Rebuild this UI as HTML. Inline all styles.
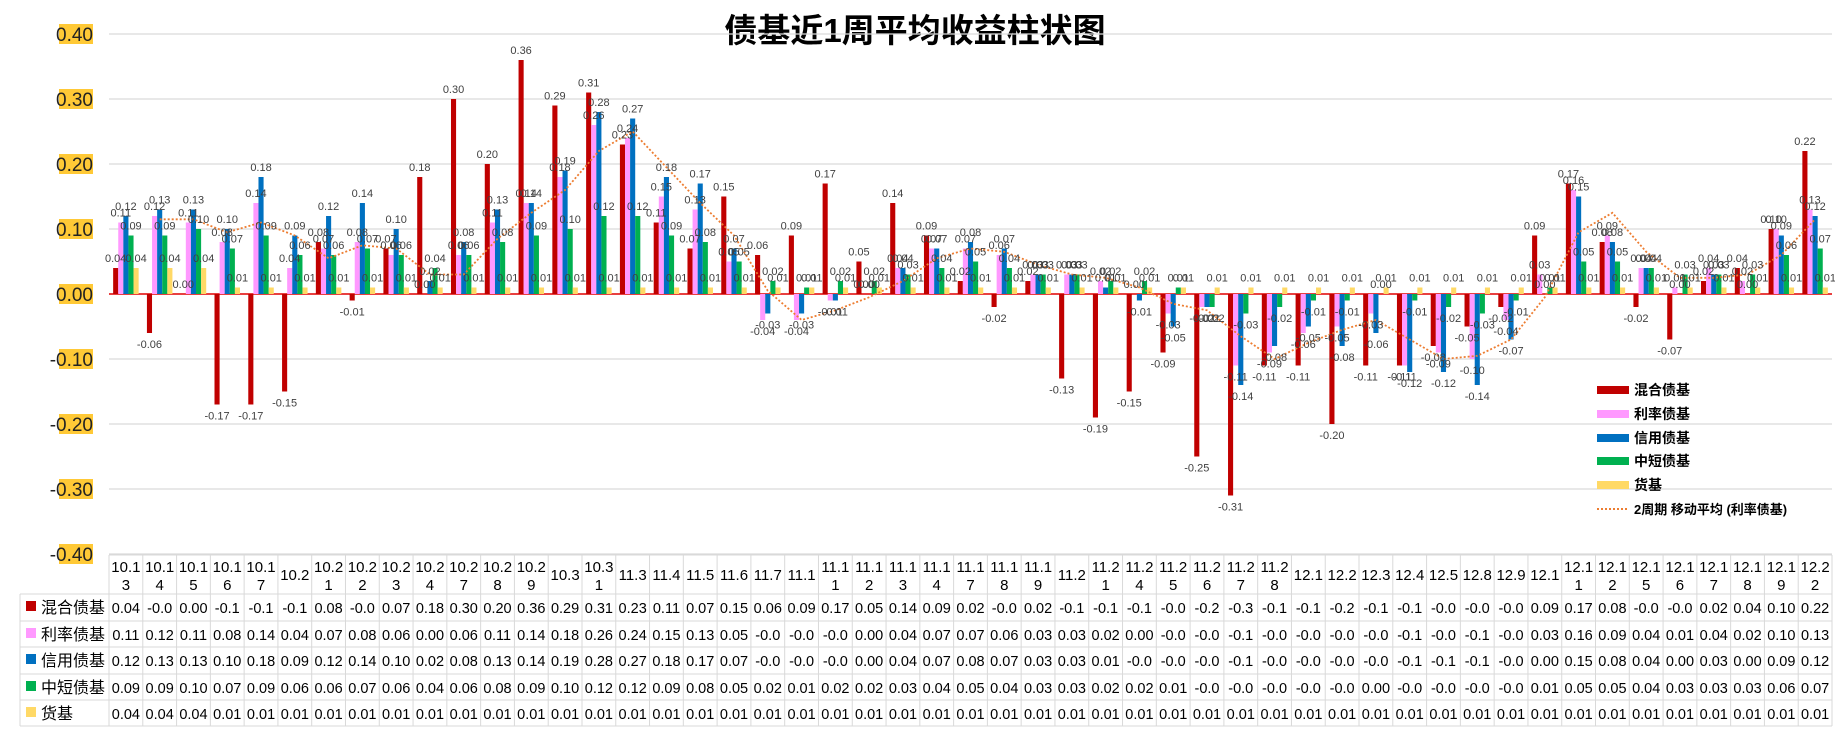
<!DOCTYPE html>
<html><head><meta charset="utf-8">
<style>
html,body{margin:0;padding:0;background:#fff;}
svg{display:block;font-family:"Liberation Sans","Noto Sans CJK SC",sans-serif;}
</style></head>
<body>
<svg id="chart" width="1835" height="733" viewBox="0 0 1835 733" xmlns="http://www.w3.org/2000/svg">
<rect width="1835" height="733" fill="#fff"/>
<text x="915" y="42" text-anchor="middle" font-size="33" font-weight="bold" fill="#000" font-family="'Liberation Sans','Noto Sans CJK SC',sans-serif">债基近1周平均收益柱状图</text>
<g id="grid"></g><g id="bars"></g><g id="line"></g><g id="labels"></g><g id="yaxis"></g><g id="table"></g><g id="legend"></g>
</svg>
<script>
const categories=["10.13","10.14","10.15","10.16","10.17","10.2","10.21","10.22","10.23","10.24","10.27","10.28","10.29","10.3","10.31","11.3","11.4","11.5","11.6","11.7","11.1","11.11","11.12","11.13","11.14","11.17","11.18","11.19","11.2","11.21","11.24","11.25","11.26","11.27","11.28","12.1","12.2","12.3","12.4","12.5","12.8","12.9","12.1","12.11","12.12","12.15","12.16","12.17","12.18","12.19","12.22"];
const mixed=[0.04,-0.06,0.00,-0.17,-0.17,-0.15,0.08,-0.01,0.07,0.18,0.30,0.20,0.36,0.29,0.31,0.23,0.11,0.07,0.15,0.06,0.09,0.17,0.05,0.14,0.09,0.02,-0.02,0.02,-0.13,-0.19,-0.15,-0.09,-0.25,-0.31,-0.11,-0.11,-0.20,-0.11,-0.11,-0.08,-0.05,-0.02,0.09,0.17,0.08,-0.02,-0.07,0.02,0.04,0.10,0.22];
const rateVals=[0.11,0.12,0.11,0.08,0.14,0.04,0.07,0.08,0.06,0.00,0.06,0.11,0.14,0.18,0.26,0.24,0.15,0.13,0.05,-0.04,-0.04,-0.01,0.00,0.04,0.07,0.07,0.06,0.03,0.03,0.02,0.00,-0.03,-0.02,-0.11,-0.09,-0.06,-0.05,-0.03,-0.11,-0.09,-0.10,-0.04,0.03,0.16,0.09,0.04,0.01,0.04,0.02,0.10,0.13];
const credit=[0.12,0.13,0.13,0.10,0.18,0.09,0.12,0.14,0.10,0.02,0.08,0.13,0.14,0.19,0.28,0.27,0.18,0.17,0.07,-0.03,-0.03,-0.01,0.00,0.04,0.07,0.08,0.07,0.03,0.03,0.01,-0.01,-0.05,-0.02,-0.14,-0.08,-0.05,-0.08,-0.06,-0.12,-0.12,-0.14,-0.07,0.00,0.15,0.08,0.04,0.00,0.03,0.00,0.09,0.12];
const shortTerm=[0.09,0.09,0.10,0.07,0.09,0.06,0.06,0.07,0.06,0.04,0.06,0.08,0.09,0.10,0.12,0.12,0.09,0.08,0.05,0.02,0.01,0.02,0.02,0.03,0.04,0.05,0.04,0.03,0.03,0.02,0.02,0.01,-0.02,-0.03,-0.02,-0.01,-0.01,0.00,-0.01,-0.02,-0.03,-0.01,0.01,0.05,0.05,0.04,0.03,0.03,0.03,0.06,0.07];
const money=[0.04,0.04,0.04,0.01,0.01,0.01,0.01,0.01,0.01,0.01,0.01,0.01,0.01,0.01,0.01,0.01,0.01,0.01,0.01,0.01,0.01,0.01,0.01,0.01,0.01,0.01,0.01,0.01,0.01,0.01,0.01,0.01,0.01,0.01,0.01,0.01,0.01,0.01,0.01,0.01,0.01,0.01,0.01,0.01,0.01,0.01,0.01,0.01,0.01,0.01,0.01];
const yTicks=[0.40,0.30,0.20,0.10,0.00,-0.10,-0.20,-0.30,-0.40];
const seriesNames=["混合债基","利率债基","信用债基","中短债基","货基"];
const seriesColors=["#C00000","#FF99FF","#0070C0","#00B050","#FFD966"];
const seriesData=[mixed,rateVals,credit,shortTerm,money];

const NS="http://www.w3.org/2000/svg";
const X0=109,X1=1832,Y0=294,PX=650;
const n=categories.length,gw=(X1-X0)/n,bw=5.1;
const y=v=>Y0-v*PX;
const gx=i=>X0+i*gw;
function mk(tag,attrs,parent,text){const e=document.createElementNS(NS,tag);for(const k in attrs)e.setAttribute(k,attrs[k]);if(text!==undefined)e.textContent=text;parent.appendChild(e);return e;}
const G=id=>document.getElementById(id);

yTicks.forEach(t=>{
  if(t!==0){const l=mk('line',{x1:X0,x2:X1,y1:y(t),y2:y(t),stroke:'#D9D9D9','stroke-width':1.3},G('grid'));
  
  }
  const r=mk('rect',{x:59,y:y(t)-10,width:34,height:20,fill:'#FFC936'},G('yaxis'));
  
  
  const tx=mk('text',{x:93,y:y(t)+7,'text-anchor':'end','font-size':19,fill:'#222'},G('yaxis'),t.toFixed(2));
  
  
});
const off=(gw-5*bw)/2;
seriesData.forEach((arr,s)=>{
  arr.forEach((v,i)=>{
    const bx=gx(i)+off+s*bw;
    const top=Math.min(y(v),Y0),h=Math.abs(y(v)-Y0);
    const b=mk('rect',{x:bx,y:top,width:bw,height:Math.max(h,0.01),fill:seriesColors[s]},G('bars'));
    
    
    const ly=v>=0?y(v)-6:y(v)+15;
    const t=mk('text',{x:bx+bw/2,y:ly,'text-anchor':'middle','font-size':11,fill:'#404040'},G('labels'),v.toFixed(2));
    
    
  });
});
const z=mk('line',{x1:X0,x2:X1,y1:Y0,y2:Y0,stroke:'#E00000','stroke-width':1.5},G('grid'));


let pts=[];
for(let i=1;i<n;i++){pts.push((gx(i)+gw/2).toFixed(1)+','+y((rateVals[i]+rateVals[i-1])/2).toFixed(1));}
const ma=mk('polyline',{points:pts.join(' '),fill:'none',stroke:'#ED7D31','stroke-width':1.8,'stroke-dasharray':'2,2'},G('line'));


const rows=[555,594,621,647,674,700,726];
const tb=G('table');
const tl=(x1,y1,x2,y2)=>{const l=mk('line',{x1,y1,x2,y2,stroke:'#D9D9D9','stroke-width':1},tb);};
tl(X0,rows[0],X1,rows[0]);
for(let r=1;r<rows.length;r++)tl(20,rows[r],X1,rows[r]);
tl(20,rows[1],20,rows[6]);
for(let i=0;i<=n;i++)tl(gx(i),rows[0],gx(i),rows[6]);
categories.forEach((c,i)=>{
  const cx=gx(i)+gw/2;
  if(c.length>4){
    const a=mk('text',{x:cx,y:572,'text-anchor':'middle','font-size':15,fill:'#000'},tb,c.slice(0,4));
    
    
    const b2=mk('text',{x:cx,y:590,'text-anchor':'middle','font-size':15,fill:'#000'},tb,c.slice(4));
    
    
  } else {
    const a=mk('text',{x:cx,y:580,'text-anchor':'middle','font-size':15,fill:'#000'},tb,c);
    
    
  }
});
const trunc=v=>{let s=v.toFixed(2);if(Math.abs(v)>=0.1&&v<0)s=s.slice(0,4);else if(v<0&&Math.abs(v)<0.1)s='-0.0';return s;};
seriesData.forEach((arr,s)=>{
  const ry=rows[s+1]+19;
  const sq=mk('rect',{x:26,y:ry-12,width:10,height:10,fill:seriesColors[s]},tb);
  
  
  const nm=mk('text',{x:41,y:ry,'font-size':16,fill:'#000'},tb,seriesNames[s]);
  
  
  arr.forEach((v,i)=>{
    const t=mk('text',{x:gx(i)+gw/2,y:ry,'text-anchor':'middle','font-size':14.5,fill:'#000'},tb,trunc(v));
    
    
  });
});
const lg=G('legend');
const ly0=[390,414,438,461,485];
seriesNames.forEach((nm,s)=>{
  const r=mk('rect',{x:1597,y:ly0[s]-4,width:32,height:8,fill:seriesColors[s]},lg);
  
  
  const t=mk('text',{x:1634,y:ly0[s]+5,'font-size':14,'font-weight':'bold',fill:'#000'},lg,nm);
  
  
});
const ml=mk('line',{x1:1597,x2:1629,y1:509,y2:509,stroke:'#ED7D31','stroke-width':2,'stroke-dasharray':'2,2'},lg);


const mt=mk('text',{x:1634,y:514,'font-size':13,'font-weight':'bold',fill:'#000'},lg,'2周期 移动平均 (利率债基)');


</script>
</body></html>
